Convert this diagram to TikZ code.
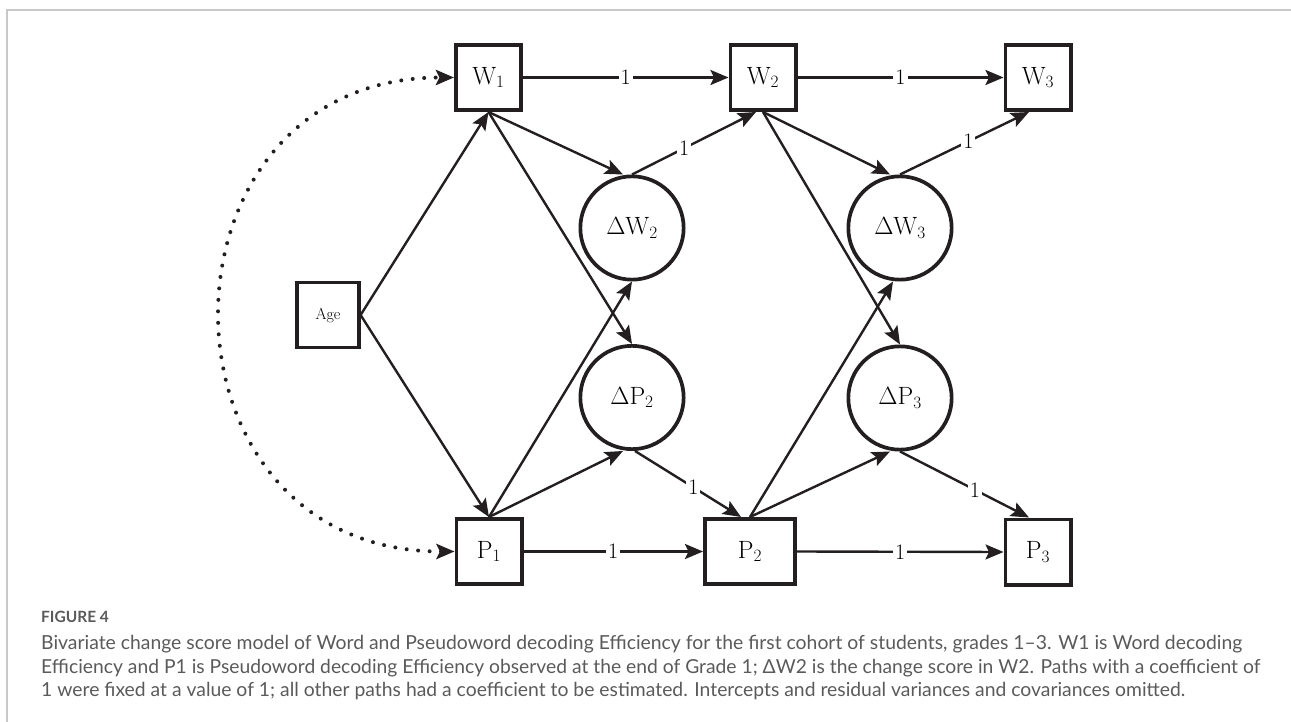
\documentclass[tikz,border=0pt]{standalone}
\usepackage{fontspec}
\newfontfamily\capfont{Lato}
\usetikzlibrary{arrows.meta}
\definecolor{ink}{HTML}{231F20}
\definecolor{capgray}{HTML}{5A5A5A}
\definecolor{framegray}{HTML}{C8C8C8}
\newlength\capw
\newcommand\capone{Bivariate change score model of Word and Pseudoword decoding Efficiency for the first cohort of students, grades 1–3. W1 is Word decoding}
\newcommand\captwo{Efficiency and P1 is Pseudoword decoding Efficiency observed at the end of Grade 1; ΔW2 is the change score in W2. Paths with a coefficient of}
\newcommand\capthree{1 were fixed at a value of 1; all other paths had a coefficient to be estimated. Intercepts and residual variances and covariances omitted.}
\begin{document}
\settowidth{\capw}{\capfont\fontsize{20}{24}\selectfont\capone}
\pgfmathsetmacro\capsizea{1201/\capw*20}
\settowidth{\capw}{\capfont\fontsize{20}{24}\selectfont\captwo}
\pgfmathsetmacro\capsizeb{1219/\capw*20}
\settowidth{\capw}{\capfont\fontsize{20}{24}\selectfont\capthree}
\pgfmathsetmacro\capsizec{1144/\capw*20}
\begin{tikzpicture}[x=1pt,y=-1pt,
  obs/.style={draw=ink,line width=3.7pt,minimum width=65.3pt,minimum height=65.3pt,inner sep=0pt,font=\fontsize{25}{30}\selectfont},
  lat/.style={draw=ink,circle,line width=3.7pt,minimum size=103.3pt,inner sep=0pt,font=\fontsize{25}{30}\selectfont},
  pth/.style={draw=ink,line width=2.4pt,-{Stealth[length=18pt,width=15pt,inset=3.5pt]}},
  cov/.style={draw=ink,line width=4pt,line cap=round,dash pattern=on 0pt off 11.5pt,
    {Stealth[length=18pt,width=15pt,inset=3.5pt]}-{Stealth[length=18pt,width=15pt,inset=3.5pt]}},
  one/.style={fill=white,inner sep=2pt,font=\fontsize{22}{26}\selectfont},
  captext/.style={anchor=base west,inner sep=0pt,text=capgray},
  figframe/.style={draw=framegray,line width=1.5pt}]
\useasboundingbox (0,0) rectangle (1291,722);
% frame
\draw[figframe] (7,722) -- (7,10) -- (1291,10);
% observed
\node[obs] (W1) at (488.5,77.5) {$\mathrm{W}_1$};
\node[obs] (W2) at (763,77.5) {$\mathrm{W}_2$};
\node[obs] (W3) at (1038,77.5) {$\mathrm{W}_3$};
\node[obs] (P1) at (489,551.5) {$\mathrm{P}_1$};
\node[obs,minimum width=90.3pt] (P2) at (750,551.5) {$\mathrm{P}_2$};
\node[obs] (P3) at (1038,552) {$\mathrm{P}_3$};
\node[obs,line width=3.2pt,minimum width=62pt,minimum height=65pt,font=\fontsize{16}{19}\selectfont] (Age) at (328,315) {Age};
% latent
\node[lat] (dW2) at (632,228) {$\Delta\mathrm{W}_2$};
\node[lat] (dP2) at (632,397.5) {$\Delta\mathrm{P}_2$};
\node[lat] (dW3) at (900,228) {$\Delta\mathrm{W}_3$};
\node[lat] (dP3) at (900,398) {$\Delta\mathrm{P}_3$};
% autoregressive paths
\draw[pth] (W1.east) -- node[one]{1} (W2.west);
\draw[pth] (W2.east) -- node[one]{1} (W3.west);
\draw[pth] (P1.east) -- node[one]{1} (P2.west);
\draw[pth] (P2.east) -- node[one]{1} (P3.west);
% age
\draw[pth] (Age.east) -- (W1.south);
\draw[pth] (Age.east) -- (P1.north);
% wave 1 -> changes
\draw[pth] (W1.south) -- ([xshift=-9pt]dW2.north);
\draw[pth] (W1.south) -- (dP2.north);
\draw[pth] (P1.north) -- (dW2.south);
\draw[pth] (P1.north) -- ([xshift=-9pt]dP2.south);
% changes -> wave 2
\draw[pth] (dW2.north) -- node[one,pos=.42]{1} ([xshift=-7pt]W2.south);
\draw[pth] ([xshift=3pt]dP2.south) -- node[one,pos=.55]{1} ([xshift=-9pt]P2.north);
% wave 2 -> changes
\draw[pth] (W2.south) -- ([xshift=-10pt]dW3.north);
\draw[pth] (W2.south) -- (dP3.north);
\draw[pth] (P2.north) -- ([xshift=-7pt]dW3.south);
\draw[pth] (P2.north) -- ([xshift=-10pt]dP3.south);
% changes -> wave 3
\draw[pth] (dW3.north) -- node[one,pos=.53]{1} ([xshift=-9pt]W3.south);
\draw[pth] (dP3.south) -- node[one,pos=.58]{1} ([xshift=-9pt]P3.north);
% covariance
\draw[cov] (P1.west) to[out=180,in=180,looseness=1.68] (W1.west);
% caption
\node[captext,font=\capfont\bfseries\fontsize{15.5}{18}\selectfont] (fig) at (41,622) {FIGURE 4};
\node[captext,font=\capfont\fontsize{\capsizea}{24}\selectfont] (cap1) at (41,649) {\capone};
\node[captext,font=\capfont\fontsize{\capsizeb}{24}\selectfont] (cap2) at (41,673) {\captwo};
\node[captext,font=\capfont\fontsize{\capsizec}{24}\selectfont] (cap3) at (41,696) {\capthree};
\end{tikzpicture}
\end{document}
